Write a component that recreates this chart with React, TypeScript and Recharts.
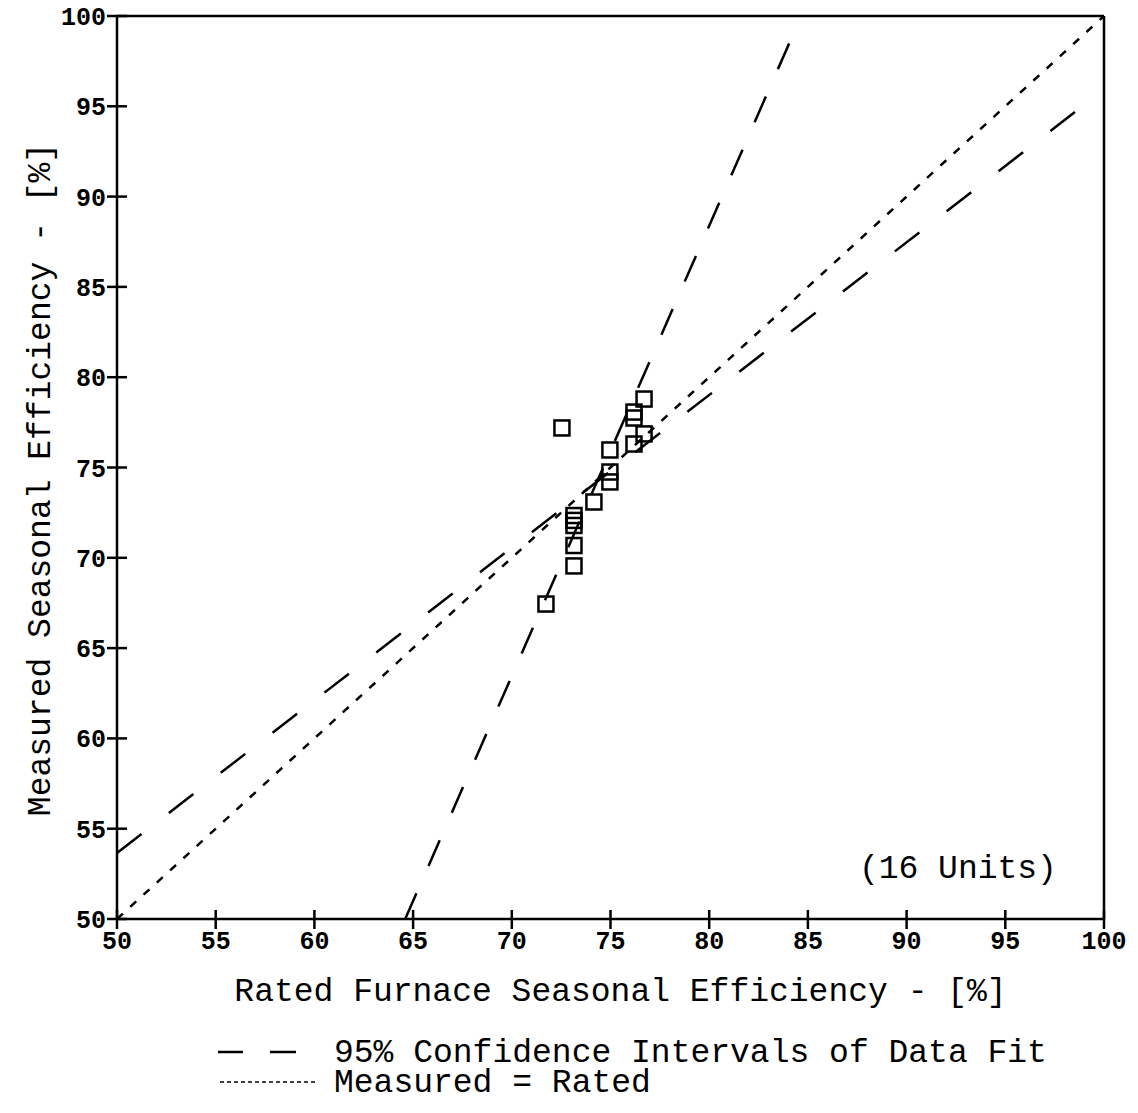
import {
  ComposedChart,
  Scatter,
  XAxis,
  YAxis,
  ReferenceLine,
  ReferenceDot,
} from 'recharts';

const rated = [
  72.54, 76.7, 76.19, 76.19, 76.7, 76.19, 74.97, 74.97, 74.97, 74.16, 73.15, 73.15, 73.15, 73.15,
  73.15, 71.73,
];
const measured = [
  77.19, 78.79, 78.07, 77.74, 76.86, 76.3, 75.97, 74.75, 74.2, 73.09, 72.34, 72.07, 71.79, 70.68,
  69.55, 67.44,
];

// 95% confidence lines of the fit, and the 1:1 line (end points)
const ciShallow = [
  { x: 50, y: 53.65 },
  { x: 98.55, y: 94.7 },
];
const ciSteep = [
  { x: 64.6, y: 50 },
  { x: 84.66, y: 100 },
];
const equalLine = [
  { x: 50, y: 50 },
  { x: 100, y: 100 },
];

const ticks = [50, 55, 60, 65, 70, 75, 80, 85, 90, 95, 100];

const points = rated.map((r, i) => ({ x: r, y: measured[i] }));

const FONT = "'Liberation Mono', 'Courier New', monospace";
const TICK_SIZE = 10;
const TICK_MARGIN = 4;
const SW = 2.5;

const LeftTick = (props: any) => {
  const { x, y, payload } = props;
  const ax = x + TICK_SIZE + TICK_MARGIN;
  return (
    <g>
      <line x1={ax - 10} x2={ax + 10} y1={y} y2={y} stroke="#000" strokeWidth={SW} />
      <text
        x={ax - 11}
        y={y}
        dy={9}
        textAnchor="end"
        fontFamily={FONT}
        fontSize={25}
        fontWeight="bold"
        fill="#000"
      >
        {payload.value}
      </text>
    </g>
  );
};

const RightTick = (props: any) => {
  const { x, y } = props;
  const ax = x - TICK_SIZE - TICK_MARGIN;
  return <line x1={ax - 10} x2={ax + 10} y1={y} y2={y} stroke="#000" strokeWidth={SW} />;
};

const BottomTick = (props: any) => {
  const { x, y, payload } = props;
  const ay = y - TICK_SIZE - TICK_MARGIN;
  return (
    <g>
      <line x1={x} x2={x} y1={ay - 9} y2={ay + 10} stroke="#000" strokeWidth={SW} />
      <text
        x={x}
        y={ay + 30}
        textAnchor="middle"
        fontFamily={FONT}
        fontSize={25}
        fontWeight="bold"
        fill="#000"
      >
        {payload.value}
      </text>
    </g>
  );
};

const TopTick = (props: any) => {
  const { x, y } = props;
  const ay = y + TICK_SIZE + TICK_MARGIN;
  return <line x1={x} x2={x} y1={ay} y2={ay + 9} stroke="#000" strokeWidth={SW} />;
};

const Square = (props: any) => {
  const { cx, cy } = props;
  return (
    <rect x={cx - 7.5} y={cy - 7.5} width={15} height={15} fill="none" stroke="#000" strokeWidth={SW} />
  );
};

export default function App() {
  return (
    <div style={{ position: 'relative', width: 1122, height: 1105, marginTop: -8 }}>
      <ComposedChart
        width={1122}
        height={1028}
        margin={{ top: 8, right: 10, bottom: 29, left: 10 }}
      >
        <XAxis
          xAxisId="b"
          type="number"
          dataKey="x"
          domain={[50, 100]}
          ticks={ticks}
          allowDataOverflow
          height={80}
          tickSize={TICK_SIZE}
          tickMargin={TICK_MARGIN}
          tickLine={false}
          axisLine={{ stroke: '#000', strokeWidth: SW }}
          tick={<BottomTick />}
          label={{
            content: (p: any) => (
              <text
                x={p.viewBox.x + p.viewBox.width / 2 + 10}
                y={p.viewBox.y + 82}
                textAnchor="middle"
                fontFamily={FONT}
                fontSize={33}
                fill="#000"
              >
                Rated Furnace Seasonal Efficiency - [%]
              </text>
            ),
          }}
        />
        <XAxis
          xAxisId="t"
          orientation="top"
          type="number"
          domain={[50, 100]}
          ticks={ticks.slice(1, -1)}
          height={8}
          tickSize={TICK_SIZE}
          tickMargin={TICK_MARGIN}
          tickLine={false}
          axisLine={{ stroke: '#000', strokeWidth: SW }}
          tick={<TopTick />}
        />
        <YAxis
          yAxisId="l"
          type="number"
          dataKey="y"
          domain={[50, 100]}
          ticks={ticks}
          allowDataOverflow
          width={99}
          tickSize={TICK_SIZE}
          tickMargin={TICK_MARGIN}
          tickLine={false}
          axisLine={{ stroke: '#000', strokeWidth: SW }}
          tick={<LeftTick />}
          label={{
            content: (p: any) => {
              const cx = p.viewBox.x + 22;
              const cy = p.viewBox.y + p.viewBox.height / 2 + 12;
              return (
                <text
                  x={cx}
                  y={cy}
                  dy={10}
                  transform={`rotate(-90, ${cx}, ${cy})`}
                  textAnchor="middle"
                  fontFamily={FONT}
                  fontSize={33}
                  fill="#000"
                >
                  Measured Seasonal Efficiency - [%]
                </text>
              );
            },
          }}
        />
        <YAxis
          yAxisId="r"
          orientation="right"
          type="number"
          domain={[50, 100]}
          ticks={ticks.slice(1, -1)}
          width={16}
          tickSize={TICK_SIZE}
          tickMargin={TICK_MARGIN}
          tickLine={false}
          axisLine={{ stroke: '#000', strokeWidth: SW }}
          tick={<RightTick />}
        />
        <ReferenceLine
          xAxisId="b"
          yAxisId="l"
          segment={equalLine}
          stroke="#000"
          strokeWidth={SW}
          strokeDasharray="8 10"
          ifOverflow="visible"
        />
        <ReferenceLine
          xAxisId="b"
          yAxisId="l"
          segment={ciShallow}
          stroke="#000"
          strokeWidth={SW}
          strokeDasharray="31 34.56"
          ifOverflow="visible"
        />
        <ReferenceLine
          xAxisId="b"
          yAxisId="l"
          segment={ciSteep}
          stroke="#000"
          strokeWidth={SW}
          strokeDasharray="28 30"
          ifOverflow="visible"
        />
        <Scatter
          xAxisId="b"
          yAxisId="l"
          data={points}
          shape={<Square />}
          isAnimationActive={false}
        />
        <ReferenceDot
          xAxisId="b"
          yAxisId="l"
          x={92.6}
          y={52.9}
          r={0}
          fill="none"
          stroke="none"
          ifOverflow="visible"
          label={{
            value: '(16 Units)',
            position: 'center',
            fontFamily: FONT,
            fontSize: 33,
            fill: '#000',
          }}
        />
      </ComposedChart>
      <svg
        width={1122}
        height={97}
        style={{ position: 'absolute', left: 0, top: 1008 }}
        fontFamily={FONT}
      >
        <line x1={210} x2={235} y1={44} y2={44} stroke="#000" strokeWidth={SW} />
        <line x1={262} x2={288} y1={44} y2={44} stroke="#000" strokeWidth={SW} />
        <text x={326} y={54} fontSize={33} fill="#000">
          95% Confidence Intervals of Data Fit
        </text>
        <line
          x1={212}
          x2={310}
          y1={74}
          y2={74}
          stroke="#000"
          strokeWidth={1.5}
          strokeDasharray="4 3"
        />
        <text x={326} y={84} fontSize={33} fill="#000">
          Measured = Rated
        </text>
      </svg>
    </div>
  );
}
